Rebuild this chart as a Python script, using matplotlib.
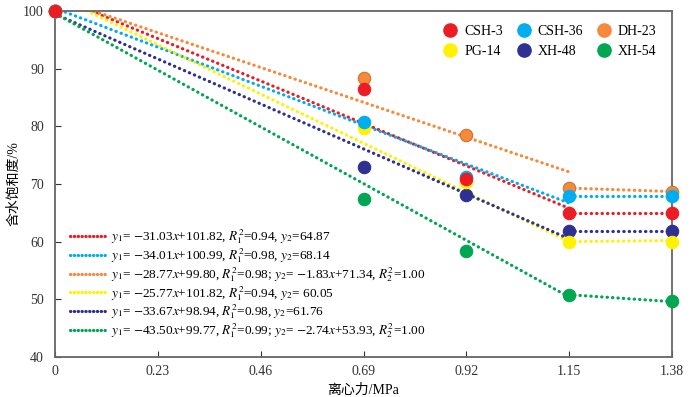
import matplotlib
matplotlib.use("Agg")
import matplotlib.pyplot as plt
from matplotlib.lines import Line2D

plt.rcParams['font.family'] = ['Liberation Serif', 'Noto Sans CJK SC']
plt.rcParams['mathtext.fontset'] = 'stix'

# pressure steps (MPa)
pressure = [0, 0.69, 0.92, 1.15, 1.38]

names = ['CSH-3', 'CSH-36', 'DH-23', 'PG-14', 'XH-48', 'XH-54']
colors = ['#ED1C24', '#00AEEF', '#F7893B', '#FFF200', '#2E3192', '#00A651']

# measured water saturation (%)
sw_csh3 = [100, 86.5, 70.8, 65.0, 65.0]
sw_csh36 = [100, 80.7, 71.3, 68.0, 67.9]
sw_dh23 = [100, 88.4, 78.5, 69.3, 68.7]
sw_pg14 = [100, 79.8, 70.3, 60.0, 60.0]
sw_xh48 = [100, 73.0, 68.1, 61.9, 61.9]
sw_xh54 = [100, 67.4, 58.4, 50.8, 49.7]
sw_all = [sw_csh3, sw_csh36, sw_dh23, sw_pg14, sw_xh48, sw_xh54]

# fitted line, stage 1 (0 - 1.15 MPa), values at both ends as drawn
fit1_x = [0, 1.15]
fit1_start = [102.6, 100.5, 102.3, 102.7, 99.5, 99.6]
fit1_end = [65.8, 66.7, 72.1, 60.0, 60.5, 50.4]
# stage 2 (1.15 - 1.38 MPa)
fit2_x = [1.15, 1.38]
fit2_start = [65.0, 67.9, 69.3, 60.0, 61.9, 50.8]
fit2_end = [65.0, 67.9, 68.7, 60.2, 61.9, 49.6]

equations = [
    r'$y_1$= $-$31.03$x$+101.82, $R^2_1$=0.94, $y_2$=64.87',
    r'$y_1$= $-$34.01$x$+100.99, $R^2_1$=0.98, $y_2$=68.14',
    r'$y_1$= $-$28.77$x$+99.80, $R^2_1$=0.98; $y_2$= $-$1.83$x$+71.34, $R^2_2$=1.00',
    r'$y_1$= $-$25.77$x$+101.82, $R^2_1$=0.94, $y_2$= 60.05',
    r'$y_1$= $-$33.67$x$+98.94, $R^2_1$=0.98, $y_2$=61.76',
    r'$y_1$= $-$43.50$x$+99.77, $R^2_1$=0.99; $y_2$= $-$2.74$x$+53.93, $R^2_2$=1.00',
]

fig = plt.figure(figsize=(7, 3.97), dpi=100)
ax = fig.add_axes([0.0786, 0.1008, 0.8814, 0.8712])

dot = (0, (0.1, 1.6))
for i in range(6):
    ax.plot(fit1_x, [fit1_start[i], fit1_end[i]], color=colors[i], lw=2.3,
            linestyle=dot, dash_capstyle='round', zorder=2)
    ax.plot(fit2_x, [fit2_start[i], fit2_end[i]], color=colors[i], lw=2.3,
            linestyle=dot, dash_capstyle='round', zorder=2)

# draw points, red last so it sits on top at 100%
for i in [5, 4, 3, 2, 1, 0]:
    ec = '#C8762E' if names[i] == 'DH-23' else colors[i]
    ax.scatter(pressure, sw_all[i], s=80, color=colors[i], edgecolors=ec,
               linewidths=0.8, zorder=3 + (6 - i), clip_on=False)

ax.set_xlim(0, 1.38)
ax.set_ylim(40, 100)
ax.set_xticks([0, 0.23, 0.46, 0.69, 0.92, 1.15, 1.38])
ax.set_xticklabels(['0', '0.23', '0.46', '0.69', '0.92', '1.15', '1.38'])
ax.set_yticks([40, 50, 60, 70, 80, 90, 100])
ax.tick_params(direction='in', length=4, labelsize=10, colors='#333333')
ax.tick_params(axis='y', pad=8)
ax.tick_params(axis='x', pad=6)
for s in ax.spines.values():
    s.set_color('#666666')
    s.set_linewidth(1.3)

ax.set_xlabel('离心力/MPa', fontsize=10, labelpad=4)
ax.set_ylabel('含水饱和度/%', fontsize=10, labelpad=2)

# legend for samples
order = [0, 3, 1, 4, 2, 5]
pt_handles = [Line2D([], [], marker='o', ls='none', ms=9.5, color=colors[i],
                     markeredgecolor=colors[i]) for i in order]
leg1 = ax.legend(pt_handles, [names[i] for i in order], ncol=3, loc='upper right',
                 frameon=False, fontsize=10, handletextpad=0.0, columnspacing=0.5,
                 labelspacing=0.5, bbox_to_anchor=(0.995, 0.995))
ax.add_artist(leg1)

# legend for fitted equations
ln_handles = [Line2D([], [], color=c, lw=2.3, linestyle=(0, (0.1, 1.1)),
                     dash_capstyle='round') for c in colors]
ax.legend(ln_handles, equations, loc='lower left', frameon=False, fontsize=9.5,
          handlelength=2.7, handletextpad=0.4, labelspacing=0.0,
          bbox_to_anchor=(0.005, 0.015))

fig.savefig('out.png', dpi=100)
